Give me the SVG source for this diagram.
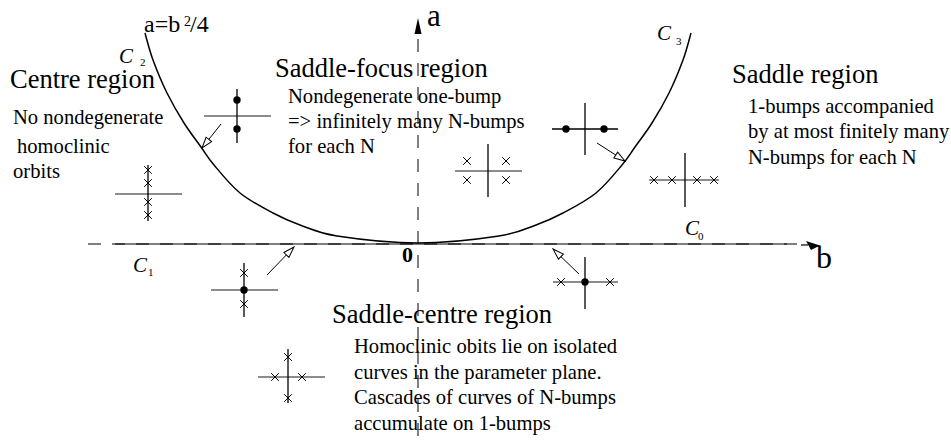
<svg xmlns="http://www.w3.org/2000/svg" xmlns:xlink="http://www.w3.org/1999/xlink" width="951" height="445" viewBox="0 0 951 445">
<style>
.big{font-size:26.5px}
.small{font-size:20.6px}
.ci{font-style:italic;font-size:21px}
.sub{font-size:11px}
.axis{stroke:#555;stroke-width:1.5;fill:none;stroke-dasharray:13 11}
.hl{stroke:#666;stroke-width:1.5}
.vl{stroke:#000;stroke-width:1.3}
.xm{stroke:#000;stroke-width:1;fill:none}
.arr{stroke:#000;stroke-width:1;fill:none;marker-end:url(#open)}
</style>
<defs>
<marker id="open" viewBox="-1 -1 13 10" refX="11" refY="4" markerWidth="13" markerHeight="10" orient="auto" markerUnits="userSpaceOnUse">
<path d="M0,0.5 L11,4 L0,7.5 z" fill="#fff" stroke="#000" stroke-width="1"/>
</marker>
<path id="x" d="M-3.8,-3.8 L3.8,3.8 M-3.8,3.8 L3.8,-3.8"/>
<path id="half" d="M145,33 C146.3,37.5 149.3,50 153,60 C156.7,70 161.8,82.5 167,93 C172.2,103.5 178.3,114 184,123 C189.7,132 196,140 201,147 C206,154 207.5,157.3 214,165 C220.5,172.7 230.2,185 240,193 C249.8,201 263,207.7 273,213 C283,218.3 289.3,221.2 300,225 C310.7,228.8 317.3,233 337,236 C356.7,239 391,243 418,243" fill="none" stroke="#000" stroke-width="1.5"/>
</defs>

<g font-family="Liberation Serif, Times New Roman, serif" fill="#000">

<g id="axes">
<line class="axis" x1="418" y1="39" x2="418" y2="445"/>
<polygon points="418,18 421.5,34 414.5,34" fill="#000"/>
<line class="axis" x1="88" y1="244" x2="800" y2="244"/>
<line x1="801" y1="245" x2="808" y2="245" stroke="#000" stroke-width="1.2"/>
<polygon points="806,241 820,245.5 811,250" fill="#000"/>
<text x="427" y="26" font-size="31">a</text>
<text x="816" y="268" font-size="32">b</text>
<text x="402" y="262" font-size="22" font-weight="bold">0</text>
</g>

<g id="curves">
<line x1="115" y1="244" x2="787" y2="244" stroke="#000" stroke-width="1.2"/>
<use xlink:href="#half"/>
<use xlink:href="#half" transform="matrix(-1 0 0 1 836 0)"/>
<text x="144" y="32" font-size="24">a=b<tspan x="184" y="26" font-size="14">2</tspan><tspan x="190" y="32">/4</tspan></text>
<text class="ci" x="119" y="63">C</text><text class="sub" x="140" y="66">2</text>
<text class="ci" x="657" y="40">C</text><text class="sub" x="676" y="45">3</text>
<text class="ci" x="685" y="235">C</text><text class="sub" x="698" y="240">0</text>
<text class="ci" x="133" y="272">C</text><text class="sub" x="148" y="276">1</text>
</g>

<g id="centre-region">
<text class="big" x="10" y="88">Centre region</text>
<text class="small" x="13" y="124">No nondegenerate</text>
<text class="small" x="17" y="153">homoclinic</text>
<text class="small" x="13" y="178">orbits</text>
</g>

<g id="saddle-focus-region">
<text class="big" x="275" y="77">Saddle-focus region</text>
<text class="small" x="288" y="103">Nondegenerate one-bump</text>
<text class="small" x="288" y="128">=&gt; infinitely many N-bumps</text>
<text class="small" x="288" y="153">for each N</text>
</g>

<g id="saddle-region">
<text class="big" x="732" y="83">Saddle region</text>
<text class="small" x="748" y="113">1-bumps accompanied</text>
<text class="small" x="748" y="138">by at most finitely many</text>
<text class="small" x="748" y="164">N-bumps for each N</text>
</g>

<g id="saddle-centre-region">
<text class="big" x="332" y="323">Saddle-centre region</text>
<text class="small" x="354" y="353">Homoclinic obits lie on isolated</text>
<text class="small" x="354" y="379">curves in the parameter plane.</text>
<text class="small" x="354" y="404">Cascades of curves of N-bumps</text>
<text class="small" x="354" y="430">accumulate on 1-bumps</text>
</g>

</g>

<g id="icon-focus-dots">
<line class="hl" x1="204" y1="116" x2="271" y2="116"/>
<line class="vl" x1="237" y1="89" x2="237" y2="143"/>
<circle cx="237" cy="100" r="3.7"/>
<circle cx="237" cy="129" r="3.7"/>
</g>

<g id="icon-centre">
<line class="hl" x1="115" y1="194" x2="182" y2="194"/>
<line class="vl" x1="148" y1="165" x2="148" y2="221"/>
<g class="xm"><use xlink:href="#x" x="148" y="170"/><use xlink:href="#x" x="148" y="183"/><use xlink:href="#x" x="148" y="202"/><use xlink:href="#x" x="148" y="215"/></g>
</g>

<g id="icon-saddle-focus">
<line class="hl" x1="455" y1="171" x2="522" y2="171"/>
<line class="vl" x1="488" y1="144" x2="488" y2="197"/>
<g class="xm"><use xlink:href="#x" x="467" y="161"/><use xlink:href="#x" x="506" y="161"/><use xlink:href="#x" x="467" y="180"/><use xlink:href="#x" x="506" y="180"/></g>
</g>

<g id="icon-saddle-dots">
<line x1="552" y1="129" x2="618" y2="129" stroke="#000" stroke-width="1.3"/>
<line class="vl" x1="585" y1="103" x2="585" y2="155"/>
<circle cx="566" cy="129" r="3.7"/>
<circle cx="604" cy="129" r="3.7"/>
</g>

<g id="icon-saddle">
<line class="hl" x1="649" y1="180" x2="719" y2="180"/>
<line class="vl" x1="685" y1="153" x2="685" y2="207"/>
<g class="xm"><use xlink:href="#x" x="654" y="180"/><use xlink:href="#x" x="672" y="180"/><use xlink:href="#x" x="697" y="180"/><use xlink:href="#x" x="714" y="180"/></g>
</g>

<g id="icon-c1">
<line class="hl" x1="211" y1="290" x2="278" y2="290"/>
<line class="vl" x1="244" y1="263" x2="244" y2="317"/>
<circle cx="244" cy="290" r="3.7"/>
<g class="xm"><use xlink:href="#x" x="244" y="273"/><use xlink:href="#x" x="244" y="304"/></g>
</g>

<g id="icon-saddle-centre">
<line class="hl" x1="258" y1="377" x2="325" y2="377"/>
<line class="vl" x1="288" y1="349" x2="288" y2="403"/>
<g class="xm"><use xlink:href="#x" x="288" y="357"/><use xlink:href="#x" x="288" y="398"/><use xlink:href="#x" x="275" y="377"/><use xlink:href="#x" x="302" y="377"/></g>
</g>

<g id="icon-c0">
<line class="hl" x1="553" y1="282" x2="618" y2="282"/>
<line class="vl" x1="585" y1="257" x2="585" y2="309"/>
<circle cx="585" cy="282" r="3.7"/>
<g class="xm"><use xlink:href="#x" x="561" y="282"/><use xlink:href="#x" x="610" y="282"/></g>
</g>

<g id="connectors">
<line class="arr" x1="221" y1="124" x2="202" y2="148"/>
<line class="arr" x1="597" y1="143" x2="625" y2="161"/>
<line class="arr" x1="267" y1="275" x2="294" y2="247"/>
<line class="arr" x1="579" y1="274" x2="553" y2="249"/>
</g>
</svg>
